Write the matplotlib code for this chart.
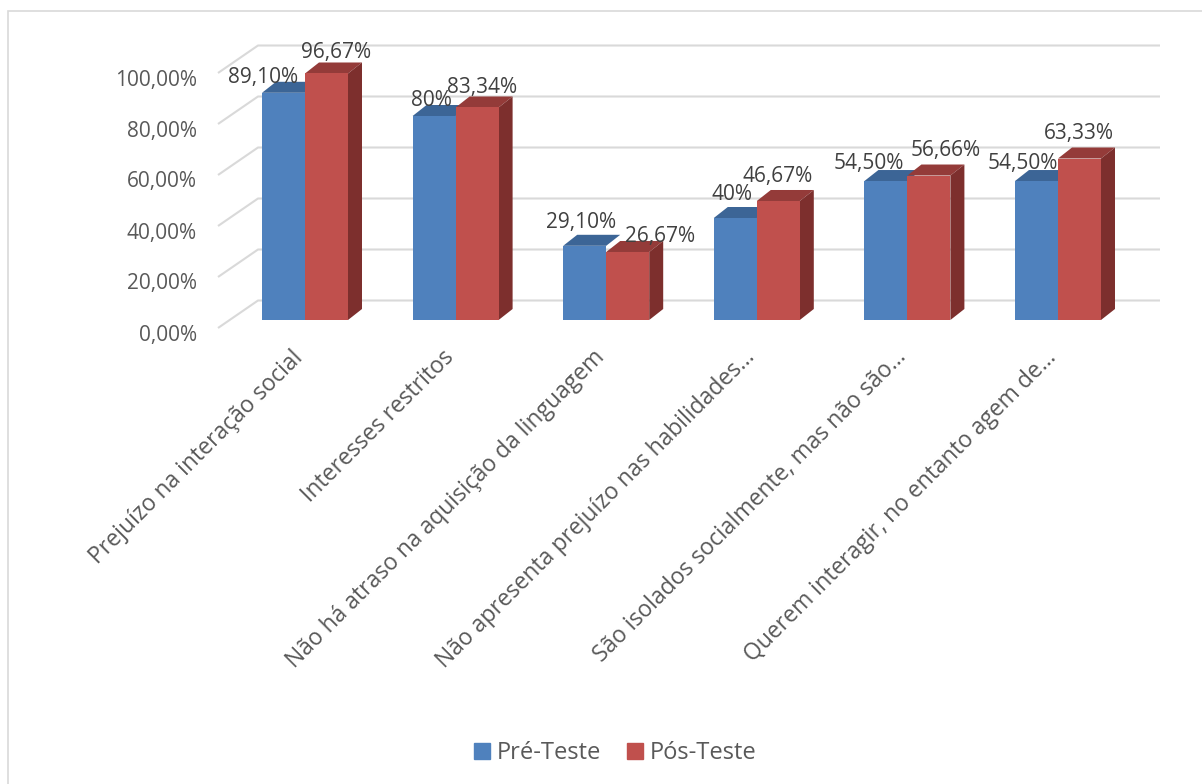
import numpy as np
import matplotlib.pyplot as plt
from matplotlib.patches import Polygon, Rectangle

plt.rcParams['font.family'] = ['Open Sans', 'DejaVu Sans']

categories = ['Prejuízo na interação social',
              'Interesses restritos',
              'Não há atraso na aquisição da linguagem',
              'Não apresenta prejuízo nas habilidades…',
              'São isolados socialmente, mas não são…',
              'Querem interagir, no entanto agem de…']
pre_teste = [89.10, 80.00, 29.10, 40.00, 54.50, 54.50]
pos_teste = [96.67, 83.34, 26.67, 46.67, 56.66, 63.33]
pre_labels = ['89,10%', '80%', '29,10%', '40%', '54,50%', '54,50%']
pos_labels = ['96,67%', '83,34%', '26,67%', '46,67%', '56,66%', '63,33%']
yticks = [0, 20, 40, 60, 80, 100]
ytick_labels = ['0,00%', '20,00%', '40,00%', '60,00%', '80,00%', '100,00%']

# label nudges in pixels (layout only)
pre_dx = [-20, -3, -4, -3, -17, -14]
pre_dy = [15, 16, 23, 23, 18, 18]
pos_dx = [10, 5, 32, -1, 17, -1]
pos_dy = [21, 20, 15, 24, 25, 25]

blue, blue_top = '#4F81BD', '#3C6596'
red, red_top, red_side = '#C0504D', '#943B39', '#7D2F2D'
grid_c = '#D9D9D9'
txt_c = '#595959'

W, H = 1202, 784
fig = plt.figure(figsize=(W / 100, H / 100), dpi=100)

# axes in pixel layout: category centre at 305 + 150.6*i, 0% at y=320, 2.55 px per %
px_l, px_r, px_t, px_b = 200, 1175, 20, 345
ax = fig.add_axes([px_l / W, 1 - px_b / H, (px_r - px_l) / W, (px_b - px_t) / H])
sx, sy = 150.6, 2.55
ax.set_xlim((px_l - 305) / sx, (px_r - 305) / sx)
ax.set_ylim((320 - px_b) / sy, (320 - px_t) / sy)
ax.axis('off')

# walls / gridlines
gx0, gx1, gx2 = (218 - 305) / sx, (258 - 305) / sx, (1160 - 305) / sx
front_off, back_off = -8 / sy, 19.5 / sy
for v, lab in zip(yticks, ytick_labels):
    ax.plot([gx0, gx1, gx2], [v + front_off, v + back_off, v + back_off],
            color=grid_c, lw=1.5, solid_capstyle='butt', zorder=1)
    ax.text(gx0 - 21 / sx, v + front_off - 7 / sy, lab, ha='right', va='center',
            fontsize=15, color=txt_c)

x = np.arange(len(categories))
w = 43 / sx
ddx, ddy = 14 / sx, 11 / sy

ax.bar(x - w / 2, pre_teste, width=w, color=blue, zorder=3)
ax.bar(x + w / 2, pos_teste, width=w, color=red, zorder=3)
for i in range(len(categories)):
    # blue top
    x0, x1, t = x[i] - w, x[i], pre_teste[i]
    ax.add_patch(Polygon([(x0, t), (x1, t), (x1 + ddx, t + ddy), (x0 + ddx, t + ddy)],
                         closed=True, color=blue_top, lw=0, zorder=2))
    # red top and side
    x0, x1, t = x[i], x[i] + w, pos_teste[i]
    ax.add_patch(Polygon([(x0, t), (x1, t), (x1 + ddx, t + ddy), (x0 + ddx, t + ddy)],
                         closed=True, color=red_top, lw=0, zorder=2))
    ax.add_patch(Polygon([(x1, 0), (x1 + ddx, ddy), (x1 + ddx, t + ddy), (x1, t)],
                         closed=True, color=red_side, lw=0, zorder=2))

    ax.annotate(pre_labels[i], (x[i] - w / 2, pre_teste[i]),
                xytext=(pre_dx[i] * 0.72, pre_dy[i] * 0.72), textcoords='offset points',
                ha='center', va='center', fontsize=15, color='#404040', zorder=5)
    ax.annotate(pos_labels[i], (x[i] + w / 2, pos_teste[i]),
                xytext=(pos_dx[i] * 0.72, pos_dy[i] * 0.72), textcoords='offset points',
                ha='center', va='center', fontsize=15, color='#404040', zorder=5)

    ax.text(x[i] - 5 / sx, (320 - 354) / sy, categories[i], rotation=45,
            rotation_mode='anchor', ha='right', va='center', fontsize=16.5, color=txt_c)

# legend
handles = [Rectangle((0, 0), 1, 1, color=blue), Rectangle((0, 0), 1, 1, color=red)]
fig.legend(handles, ['Pré-Teste', 'Pós-Teste'], loc='center', bbox_to_anchor=(0.512, 1 - 753 / H),
           ncol=2, frameon=False, fontsize=17, handlelength=0.65, handleheight=0.65,
           handletextpad=0.3, columnspacing=1.1, labelcolor=txt_c)

# chart border
fig.patches.append(Rectangle((8 / W, -0.1), 1.2, 1 - 11 / H + 0.1, transform=fig.transFigure,
                             fill=False, edgecolor='#D9D9D9', lw=1.2))

fig.savefig('out.png', dpi=100)
